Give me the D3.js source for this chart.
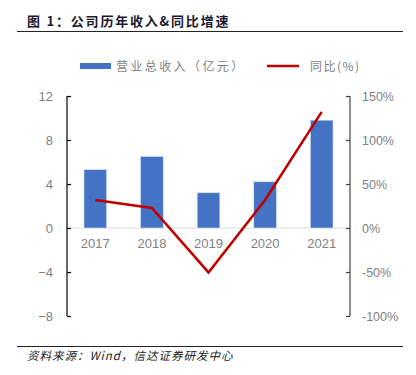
<!DOCTYPE html>
<html><head><meta charset="utf-8">
<script src="https://cdn.jsdelivr.net/npm/d3@7"></script>
<style>body{margin:0;background:#fff}svg{display:block}</style>
</head><body>
<svg id="c" width="416" height="375"></svg>
<script>
const years = ["2017","2018","2019","2020","2021"];
const revenue = [5.3, 6.5, 3.2, 4.2, 9.8];
const yoy = [31.8, 22.7, -50.5, 31.8, 132.0];
const leftTicks = [-8,-4,0,4,8,12];
const rightTicks = [-100,-50,0,50,100,150];

const svg = d3.select("#c");
const cjk = "'Noto Sans CJK SC', sans-serif";
const L = 67, R = 350, T = 96, B = 316;

const x = d3.scaleBand().domain(years).range([L, R]).paddingInner(0.6).paddingOuter(0.3);
const yL = d3.scaleLinear().domain([-8, 12]).range([B, T]);
const yR = d3.scaleLinear().domain([-100, 150]).range([B, T]);

// title
svg.append("text").attr("x", 27).attr("y", 26).attr("font-family", cjk).attr("font-weight", "bold")
  .attr("font-size", 13).attr("fill", "#1a1a2e").attr("letter-spacing", 1.8).text("图 1：公司历年收入&同比增速");
svg.append("line").attr("x1", 17).attr("x2", 403).attr("y1", 31.5).attr("y2", 31.5).attr("stroke", "#222").attr("stroke-width", 1.2);

// legend
svg.append("rect").attr("x", 80).attr("y", 63).attr("width", 31).attr("height", 6).attr("fill", "#4472C4");
svg.append("text").attr("x", 116).attr("y", 70.5).attr("font-family", cjk).attr("font-size", 12).attr("fill", "#7f7f7f")
  .attr("letter-spacing", 2.4).text("营业总收入（亿元）");
svg.append("line").attr("x1", 267).attr("x2", 299).attr("y1", 66).attr("y2", 66).attr("stroke", "#C00000").attr("stroke-width", 2.5);
svg.append("text").attr("x", 310).attr("y", 70.5).attr("font-family", cjk).attr("font-size", 12).attr("fill", "#7f7f7f")
  .attr("letter-spacing", 1.5).text("同比(%)");

// zero line
svg.append("line").attr("x1", L).attr("x2", R).attr("y1", yL(0)).attr("y2", yL(0)).attr("stroke", "#d9d9d9").attr("stroke-width", 1.2);

// bars
svg.selectAll("rect.bar").data(years).enter().append("rect").attr("class", "bar")
  .attr("x", d => x(d)).attr("width", x.bandwidth())
  .attr("y", (d, i) => yL(revenue[i])).attr("height", (d, i) => yL(0) - yL(revenue[i]))
  .attr("fill", "#4472C4").attr("stroke", "#d6e0f2").attr("stroke-width", 0.6);

// year labels
svg.selectAll("text.yr").data(years).enter().append("text").attr("class", "yr")
  .attr("x", d => x(d) + x.bandwidth() / 2).attr("y", 248).attr("text-anchor", "middle")
  .attr("font-family", "'Liberation Sans', sans-serif").attr("font-size", 13).attr("fill", "#7f7f7f").text(d => d);

// line
const line = d3.line().x((d, i) => x(years[i]) + x.bandwidth() / 2).y(d => yR(d));
svg.append("path").datum(yoy).attr("d", line).attr("fill", "none").attr("stroke", "#C00000").attr("stroke-width", 2.5);

// axes
const axL = d3.axisLeft(yL).tickValues(leftTicks).tickSize(-4).tickPadding(14);
const gL = svg.append("g").attr("transform", `translate(${L},0)`).call(axL);
gL.select(".domain").attr("stroke", "#000").attr("stroke-width", 1.2).attr("d", `M0,${T}V${B}`);
gL.selectAll(".tick line").attr("stroke", "#000").attr("stroke-width", 1.2);
gL.selectAll(".tick text").attr("font-family", "'Liberation Sans', sans-serif").attr("font-size", 13).attr("fill", "#7f7f7f");

const axR = d3.axisRight(yR).tickValues(rightTicks).tickSize(-4).tickPadding(12).tickFormat(d => d + "%");
const gR = svg.append("g").attr("transform", `translate(${R},0)`).call(axR);
gR.select(".domain").attr("stroke", "#404040").attr("stroke-width", 1.2).attr("d", `M0,${T}V${B}`);
gR.selectAll(".tick line").attr("stroke", "#404040").attr("stroke-width", 1.2);
gR.selectAll(".tick text").attr("font-family", "'Liberation Sans', sans-serif").attr("font-size", 12.5).attr("fill", "#7f7f7f");

// footer
svg.append("line").attr("x1", 17).attr("x2", 403).attr("y1", 346.5).attr("y2", 346.5).attr("stroke", "#222").attr("stroke-width", 1);
svg.append("text").attr("x", 27).attr("y", 360).attr("font-family", cjk).attr("font-size", 11.5).attr("font-style", "italic")
  .attr("fill", "#222").attr("letter-spacing", 1).text("资料来源：Wind，信达证券研发中心");
</script>
</body></html>
